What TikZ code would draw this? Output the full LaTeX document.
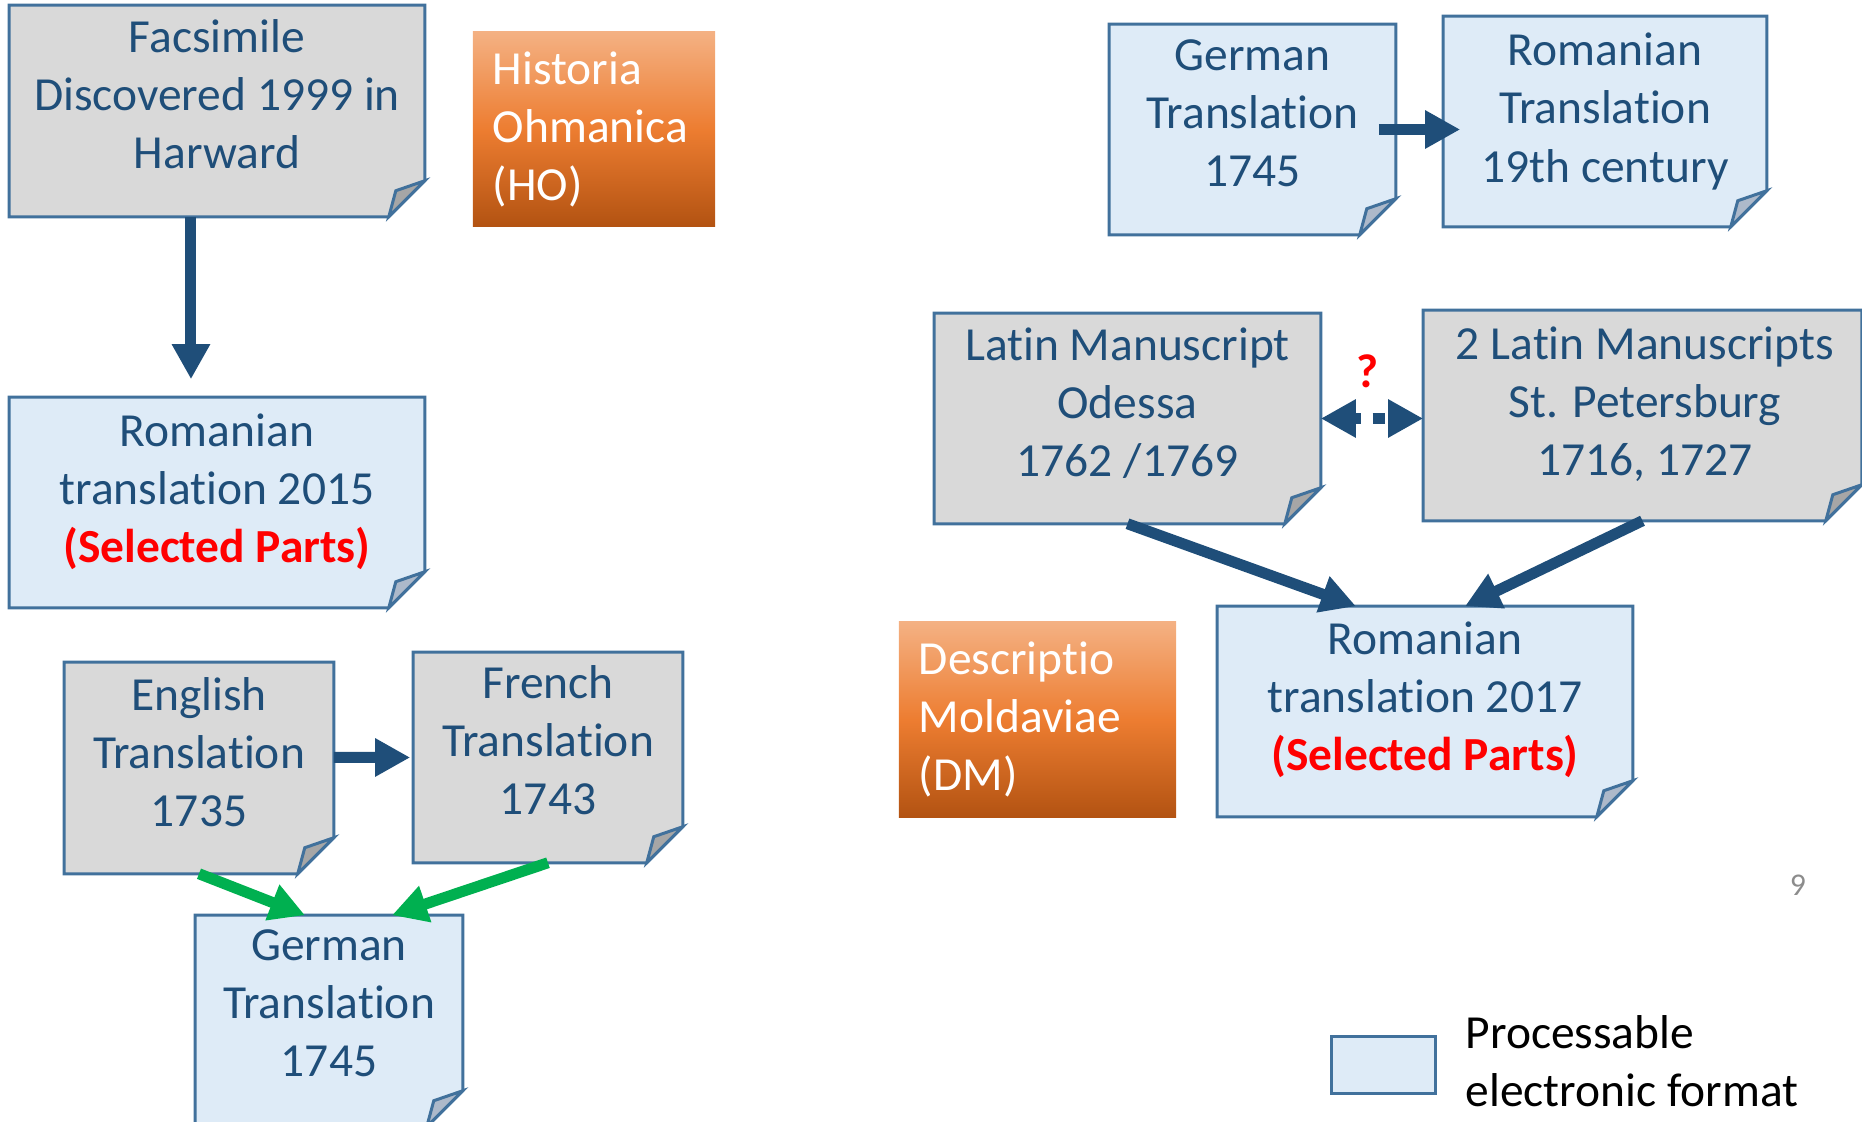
\documentclass[tikz,border=0pt]{standalone}
\usepackage{fontspec}
\setmainfont{Carlito}[Ligatures=NoCommon]
\usepackage{tikz}
\usetikzlibrary{arrows.meta}
\definecolor{ink}{HTML}{1F4E79}
\definecolor{edge}{HTML}{41719C}
\definecolor{paleblue}{HTML}{DEEBF7}
\definecolor{palegray}{HTML}{D9D9D9}
\definecolor{foldgray}{HTML}{A6A6A6}
\definecolor{foldblue}{HTML}{ADB9CA}
\definecolor{mgreen}{HTML}{00B050}
\definecolor{mred}{HTML}{FF0000}
\definecolor{ortop}{HTML}{F4B183}
\definecolor{ormid}{HTML}{ED7D31}
\definecolor{orbot}{HTML}{B35312}
\tikzset{page/.style 2 args = {inner sep=0, minimum width=#1, minimum height=#2}}
\tikzset{edge line/.style = {draw=edge, line width=0.03cm}}
\tikzset{txt/.style = {text=ink, align=center, font=\fontsize{13.5}{16.5}\selectfont}}
\tikzset{title/.style = {text=white, align=left, font=\fontsize{13.5}{16.5}\selectfont,
                         top color=ortop, bottom color=orbot, middle color=ormid,
                         inner xsep=0.2cm, inner ysep=0}}
\tikzset{flow/.style = {draw=ink, line width=0.11cm,
                        -{Triangle[length=0.35cm, width=0.36cm]}}}
\tikzset{flowboth/.style = {draw=ink, line width=0.11cm,
                            {Triangle[length=0.35cm, width=0.36cm]}-{Triangle[length=0.35cm, width=0.36cm]},
                            dash pattern=on 0.07cm off 0.12cm on 0.12cm off 0.2cm}}
\tikzset{greenflow/.style = {flow, draw=mgreen}}
\newcommand{\sel}{{\bfseries\color{mred}(Selected Parts)}}

\begin{document}
\begin{tikzpicture}[x=0.01cm, y=-0.01cm]
      \useasboundingbox (0,0) rectangle (1862,1122);

      \node [page={4.14cm}{2.10cm}] (fac) at (217,111) {};
      \node [page={4.14cm}{2.09cm}] (ro15) at (217,502.5) {};
      \node [page={2.68cm}{2.10cm}] (eng) at (199,768) {};
      \node [page={2.68cm}{2.09cm}] (fre) at (548,757.5) {};
      \node [page={2.66cm}{2.10cm}] (ger1) at (329,1021) {};
      \node [page={2.85cm}{2.09cm}] (ger2) at (1252.5,129.5) {};
      \node [page={3.22cm}{2.09cm}] (ro19) at (1605,121.5) {};
      \node [page={3.85cm}{2.09cm}] (ode) at (1127.5,418.5) {};
      \node [page={4.37cm}{2.09cm}] (stp) at (1642.5,415.5) {};
      \node [page={4.14cm}{2.09cm}] (ro17) at (1425,711.5) {};

      \foreach \n/\bg/\fd in {fac/palegray/foldgray, ro15/paleblue/foldblue, eng/palegray/foldgray,
                              fre/palegray/foldgray, ger1/paleblue/foldblue, ger2/paleblue/foldblue,
                              ro19/paleblue/foldblue, ode/palegray/foldgray, stp/palegray/foldgray,
                              ro17/paleblue/foldblue}
      {
        \filldraw [edge line, fill=\bg] (\n.north west) -- (\n.north east) -- ([yshift=0.36cm]\n.south east)
          -- ([xshift=-0.36cm]\n.south east) -- (\n.south west) -- cycle;
        \filldraw [edge line, fill=\fd] ([yshift=0.36cm]\n.south east) -- ([xshift=-0.29cm, yshift=0.26cm]\n.south east)
          -- ([xshift=-0.36cm]\n.south east) -- cycle;
      }

      \node [txt] (tfac) at (217,94) {Facsimile\\Discovered 1999 in\\Harward};
      \node [txt] (tro15) at (217,492) {Romanian\\translation 2015\\\sel};
      \node [txt] (teng) at (199,752) {English\\Translation\\1735};
      \node [txt] (tfre) at (548,740.5) {French\\Translation\\1743};
      \node [txt] (tger1) at (329,1003.5) {German\\Translation\\1745};
      \node [txt] (tger2) at (1252.5,113) {German\\Translation\\1745};
      \node [txt] (tro19) at (1605,111.5) {Romanian\\Translation\\19th century};
      \node [txt] (tode) at (1127.5,403.5) {Latin Manuscript\\Odessa\\1762 /1769};
      \node [txt] (tstp) at (1645,404) {2 Latin Manuscripts\\St. Petersburg\\1716, 1727};
      \node [txt] (tro17) at (1425,700) {Romanian\\translation 2017\\\sel};

      \node [title, text width=2.02cm, minimum height=1.94cm] (ho) at (594,129) {Historia\\Ohmanica\\(HO)};
      \node [title, text width=2.37cm, minimum height=1.95cm] (dm) at (1037.5,719.5) {Descriptio\\Moldaviae\\(DM)};

      \coordinate (tip19) at (ger2.east -| ro19.west);
      \draw [flow] ([xshift=-0.26cm]fac.south) -- ([xshift=-0.26cm, yshift=0.18cm]ro15.north);
      \draw [flow] ([yshift=0.105cm]eng.east) -- ([xshift=-0.03cm]fre.west);
      \draw [flow] ([xshift=-0.17cm]ger2.east) -- ([xshift=0.17cm]tip19);
      \draw [flowboth] (ode.east) -- (ode.east -| stp.west);
      \draw [flow] (ode.south) -- ([xshift=-0.69cm]ro17.north);
      \draw [flow] (stp.south) -- ([xshift=0.40cm]ro17.north);
      \draw [greenflow] (eng.south) -- ([xshift=-0.24cm]ger1.north);
      \draw [greenflow] (fre.south) -- ([xshift=0.63cm]ger1.north);

      \node [text=mred, font=\fontsize{13.5}{16.5}\selectfont\bfseries] (qm) at (1367,371) {?};
      \node [text=black!45, font=\fontsize{9}{11}\selectfont] (pnum) at (1798,885) {9};

      \node [page={1.03cm}{0.56cm}, edge line, fill=paleblue] (key) at (1383.5,1065) {};
      \node [anchor=west, align=left, inner sep=0, font=\fontsize{13.5}{16.5}\selectfont] (keytxt) at (1465,1061) {Processable\\electronic format};
\end{tikzpicture}
\end{document}
